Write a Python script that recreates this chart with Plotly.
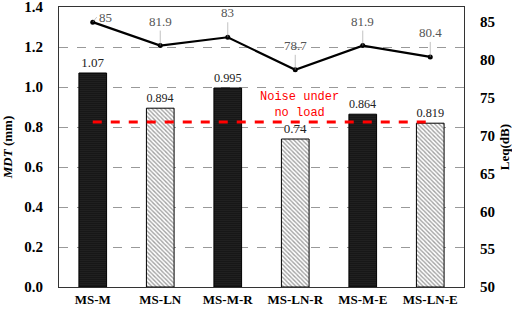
import plotly.graph_objects as go

categories = ["MS-M", "MS-LN", "MS-M-R", "MS-LN-R", "MS-M-E", "MS-LN-E"]
mdt_values = [1.07, 0.894, 0.995, 0.74, 0.864, 0.819]
leq_values = [85, 81.9, 83, 78.7, 81.9, 80.4]
noise_no_load = 71.8
left_ticks = [0.0, 0.2, 0.4, 0.6, 0.8, 1.0, 1.2, 1.4]
right_ticks = [50, 55, 60, 65, 70, 75, 80, 85]

dark = [True, False, True, False, True, False]
SERIF = "Liberation Serif"

fig = go.Figure()

fig.add_trace(go.Bar(
    x=categories, y=mdt_values, width=0.41,
    text=[f"{v:g}" for v in mdt_values], textposition="outside",
    textfont=dict(family=SERIF, size=13, color="#222"),
    cliponaxis=False,
    marker=dict(
        color=["black" if d else "white" for d in dark],
        line=dict(color="black", width=1),
        pattern=dict(
            shape=["." if d else "\\" for d in dark],
            fgcolor=["#666666" if d else "#444444" for d in dark],
            bgcolor=["black" if d else "white" for d in dark],
            size=[2 if d else 3 for d in dark],
            solidity=[0.25 if d else 0.45 for d in dark],
        ),
    ),
    showlegend=False, yaxis="y",
))

fig.add_trace(go.Scatter(
    x=categories, y=leq_values, mode="lines+markers",
    line=dict(color="black", width=2.2),
    marker=dict(color="black", size=5),
    showlegend=False, yaxis="y2",
))

fig.add_trace(go.Scatter(
    x=[categories[0], categories[-1]], y=[noise_no_load, noise_no_load],
    mode="lines", line=dict(color="red", width=3, dash="dash"),
    showlegend=False, yaxis="y2",
))

for i, (c, v) in enumerate(zip(categories, leq_values)):
    first = i == 0
    fig.add_annotation(
        x=c, y=v, yref="y2", text=f"{v:g}", showarrow=True,
        arrowhead=0, arrowwidth=0.6, arrowcolor="#999",
        ax=4 if first else 0, ay=-5 if first else -15,
        xanchor="left" if first else "center",
        yanchor="middle" if first else "bottom",
        font=dict(family=SERIF, size=13, color="#555"),
    )

fig.add_annotation(
    x=3, y=74.1, yref="y2", xref="x", xshift=4,
    text="Noise under<br>no load", showarrow=False,
    font=dict(family="Liberation Mono", size=12, color="red"),
)

fig.update_layout(
    width=512, height=309,
    margin=dict(l=59, r=48, t=7, b=22),
    plot_bgcolor="white", paper_bgcolor="white",
    bargap=0.5,
    xaxis=dict(
        showline=True, linecolor="#333", linewidth=1, mirror=True,
        tickfont=dict(family=SERIF, size=13, color="black", weight="bold"),
        ticks="", showgrid=False, automargin=False,
    ),
    yaxis=dict(
        range=[0, 1.4], tickvals=left_ticks,
        ticktext=[f"{t:.1f}" for t in left_ticks],
        showline=True, linecolor="#333", linewidth=1, mirror=True,
        showgrid=True, gridcolor="#999", griddash="dash", gridwidth=0.8,
        zeroline=False, ticks="", ticklabelstandoff=12, automargin=False,
        ticklabeloverflow="allow",
        tickfont=dict(family=SERIF, size=15, color="black", weight="bold"),
        title=dict(text="<i>MDT</i> (mm)", standoff=10,
                   font=dict(family=SERIF, size=13, color="black", weight="bold")),
    ),
    yaxis2=dict(
        range=[50, 87], tickvals=right_ticks, overlaying="y", side="right",
        showline=True, linecolor="#333", linewidth=1, showgrid=False,
        zeroline=False, ticks="", ticklabelstandoff=12, automargin=False,
        ticklabeloverflow="allow",
        tickfont=dict(family=SERIF, size=15, color="black", weight="bold"),
        title=dict(text="Leq(dB)", standoff=6,
                   font=dict(family=SERIF, size=13, color="black", weight="bold")),
    ),
)

fig.write_html("out.html", config={"displayModeBar": False},
               post_script="document.body.style.margin='0';document.body.style.padding='0';")
